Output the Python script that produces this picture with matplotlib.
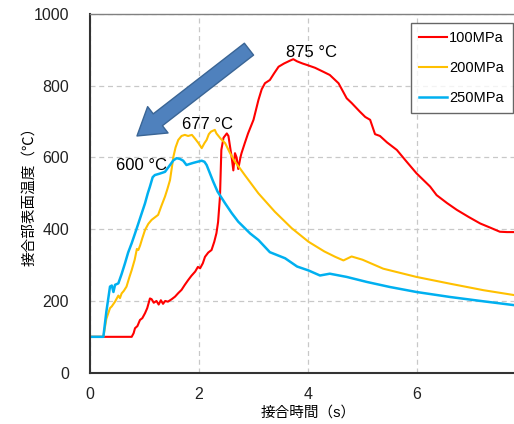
import numpy as np
import matplotlib
matplotlib.use('Agg')
import matplotlib.pyplot as plt

plt.rcParams['font.family'] = ['Liberation Sans', 'Noto Sans CJK JP', 'DejaVu Sans']

# 100 MPa
t_100 = [0, 0.765, 0.80, 0.826, 0.87, 0.917, 0.96, 1.01, 1.05, 1.10, 1.13, 1.17, 1.22,
         1.26, 1.30, 1.34, 1.38, 1.43, 1.50, 1.56, 1.62, 1.68, 1.74, 1.80, 1.86, 1.93,
         1.98, 2.02, 2.07, 2.11, 2.17, 2.23, 2.28, 2.32, 2.35, 2.385, 2.41, 2.45, 2.51,
         2.54, 2.57, 2.60, 2.63, 2.66, 2.69, 2.72, 2.76, 2.78, 2.84, 2.90, 3.00, 3.09,
         3.15, 3.21, 3.30, 3.38, 3.46, 3.56, 3.67, 3.73, 3.80, 3.90, 3.98, 4.13, 4.28,
         4.40, 4.56, 4.71, 4.80, 4.95, 5.05, 5.14, 5.23, 5.32, 5.45, 5.63, 5.80, 5.99,
         6.24, 6.36, 6.55, 6.73, 6.95, 7.16, 7.35, 7.52, 7.65, 7.80]
T_100 = [100, 100, 110, 124, 130, 147, 152, 166, 180, 207, 205, 195, 200,
         190, 202, 192, 200, 198, 205, 212, 222, 231, 245, 258, 270, 282,
         295, 291, 305, 323, 335, 342, 365, 389, 420, 491, 621, 655, 667,
         660, 630, 600, 564, 612, 600, 568, 600, 612, 640, 667, 705, 760,
         790, 807, 816, 835, 853, 862, 870, 874, 868, 862, 858, 850, 839,
         830, 807, 765, 752, 728, 713, 705, 665, 660, 642, 621, 590, 556,
         519, 495, 473, 454, 434, 416, 404, 393, 392, 392]

# 200 MPa
t_200 = [0, 0.245, 0.30, 0.367, 0.40, 0.459, 0.52, 0.55, 0.58, 0.62, 0.67, 0.72, 0.765,
         0.82, 0.86, 0.887, 0.92, 0.96, 1.01, 1.07, 1.13, 1.19, 1.25, 1.31, 1.376,
         1.42, 1.468, 1.50, 1.53, 1.57, 1.62, 1.68, 1.74, 1.80, 1.87, 1.93, 1.99, 2.05,
         2.10, 2.14, 2.18, 2.22, 2.29, 2.32, 2.40, 2.48, 2.57, 2.66, 2.75, 2.84, 3.09,
         3.39, 3.70, 4.01, 4.30, 4.50, 4.65, 4.80, 5.00, 5.38, 5.99, 6.61, 7.22, 7.80]
T_200 = [100, 100, 150, 180, 185, 198, 215, 208, 221, 228, 240, 265, 286,
         315, 345, 342, 355, 375, 398, 415, 426, 433, 440, 465, 491,
         512, 537, 570, 602, 628, 649, 660, 663, 660, 663, 652, 640, 626,
         640, 649, 665, 672, 677, 667, 652, 640, 612, 588, 570, 551, 500,
         449, 403, 365, 338, 323, 313, 324, 315, 290, 267, 248, 230, 216]

# 250 MPa
t_250 = [0, 0.245, 0.30, 0.367, 0.40, 0.43, 0.46, 0.52, 0.58, 0.642, 0.70, 0.765, 0.83,
         0.887, 0.95, 1.009, 1.06, 1.10, 1.15, 1.19, 1.28, 1.376, 1.468, 1.53, 1.59,
         1.65, 1.71, 1.77, 1.83, 1.896, 1.97, 2.05, 2.10, 2.14, 2.20, 2.26, 2.34, 2.48,
         2.60, 2.72, 2.94, 3.09, 3.30, 3.58, 3.80, 4.01, 4.22, 4.40, 4.71, 5.08, 5.50,
         5.99, 6.61, 7.22, 7.80]
T_250 = [100, 100, 170, 240, 243, 225, 245, 249, 275, 305, 335, 361, 390,
         416, 445, 472, 500, 519, 545, 551, 555, 560, 579, 592, 598,
         596, 591, 579, 582, 585, 588, 591, 588, 579, 556, 533, 505, 472,
         445, 421, 388, 370, 336, 319, 296, 285, 271, 276, 267, 253, 239,
         225, 211, 199, 188]

series_labels = ['100MPa', '200MPa', '250MPa']
series_colors = ['#FF0000', '#FFC000', '#00B0F0']

peak_labels = ['875 \u00b0C', '677 \u00b0C', '600 \u00b0C']
peak_pos = [(4.07, 894), (2.15, 691), (0.945, 578)]

arrow_tail = (2.917, 902)
arrow_tip = (0.862, 660)

fig = plt.figure(figsize=(5.14, 4.24), dpi=100)
ax = fig.add_axes([90 / 514, 51.3 / 424, 436 / 514, 358.7 / 424])

ax.plot(t_100, T_100, color=series_colors[0], lw=1.5, label=series_labels[0])
ax.plot(t_200, T_200, color=series_colors[1], lw=1.5, label=series_labels[1])
ax.plot(t_250, T_250, color=series_colors[2], lw=1.8, label=series_labels[2])

ax.set_xlim(0, 8)
ax.set_ylim(0, 1000)
ax.set_xticks([0, 2, 4, 6])
ax.set_yticks([0, 200, 400, 600, 800, 1000])
ax.tick_params(length=0, labelsize=11.5, colors='#222222')
ax.tick_params(axis='y', pad=15)
ax.tick_params(axis='x', pad=10)
ax.grid(True, ls=(0, (4, 3)), color='#c8c8c8', lw=0.9)

for side in ['left', 'bottom']:
    ax.spines[side].set_color('#333333')
    ax.spines[side].set_linewidth(1.5)
ax.spines['top'].set_color('#808080')
ax.spines['top'].set_linewidth(1.0)
ax.spines['right'].set_visible(False)

ax.set_ylabel('接合部表面温度（℃）', fontsize=10.5, va='center')
ax.yaxis.set_label_coords(-0.14, 0.5)
ax.set_xlabel('接合時間（s）', fontsize=10.5, va='center')
ax.xaxis.set_label_coords(0.5, -0.11)

for txt, pos in zip(peak_labels, peak_pos):
    ax.text(pos[0], pos[1], txt, fontsize=12, ha='center', va='center')

ax.annotate('', xy=arrow_tip, xytext=arrow_tail,
            arrowprops=dict(arrowstyle='simple,head_length=0.95,head_width=1.2,tail_width=0.54',
                            mutation_scale=20, fc='#4F81BD', ec='#3A6595', lw=1,
                            shrinkA=0, shrinkB=0))

leg = ax.legend(loc='upper left', bbox_to_anchor=(0.736, 0.975), borderaxespad=0,
                fontsize=10.5, frameon=True, fancybox=False, edgecolor='#404040',
                handlelength=1.9, handletextpad=0.15, labelspacing=1.07, borderpad=0.585)
leg.get_frame().set_linewidth(1.0)

fig.savefig('out.png', dpi=100)
